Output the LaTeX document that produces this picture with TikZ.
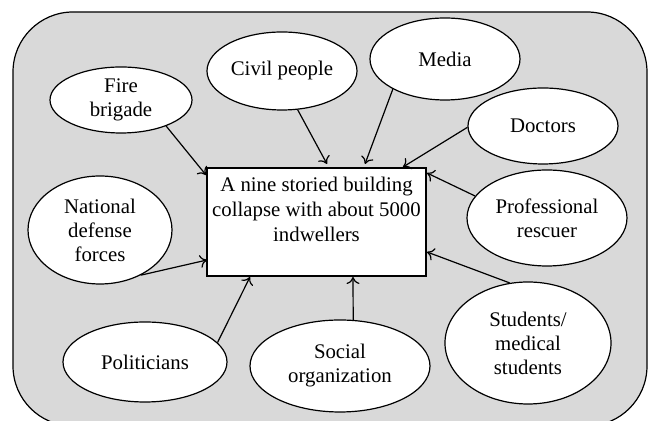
\documentclass[tikz,border=0pt]{standalone}
\usepackage{fontspec}
\setmainfont{Liberation Serif}
\usetikzlibrary{shapes.geometric,arrows.meta}
\definecolor{fond}{gray}{0.85}
\begin{document}
\begin{tikzpicture}[x=0.5pt,y=-0.5pt]
            \tikzstyle{acteur}=[ellipse,draw,fill=white,line width=0.6pt,inner sep=0pt,align=center,font=\fontsize{10.4}{12}\selectfont]
            \tikzstyle{fleche}=[-{To[length=3.5pt,width=6.5pt]},line width=0.6pt]
            \clip (0,0) rectangle (650,421);
            \draw[fill=fond,line width=0.6pt,rounded corners=30pt] (13,12) rectangle (647,426);
            \node[draw,fill=white,line width=0.6pt,minimum width=109.5pt,minimum height=54pt,inner sep=0pt,align=center,font=\fontsize{10.4}{12.5}\selectfont] (event) at (316.5,222) {A nine storied building\\collapse with about 5000\\indwellers\\ \mbox{}};
            \node[acteur,minimum width=71pt,minimum height=33pt] (fire) at (121,100) {Fire\\brigade};
            \node[acteur,minimum width=75pt,minimum height=39pt] (civil) at (282,71) {Civil people};
            \node[acteur,minimum width=75pt,minimum height=41pt] (media) at (445,59) {Media};
            \node[acteur,minimum width=75pt,minimum height=38pt] (doctors) at (543,126) {Doctors};
            \node[acteur,minimum width=80pt,minimum height=48pt] (rescuer) at (547,218) {Professional\\rescuer};
            \node[acteur,minimum width=83pt,minimum height=61pt] (students) at (528,343) {Students/\\medical\\students};
            \node[acteur,minimum width=90pt,minimum height=46pt] (social) at (340,366) {Social\\organization};
            \node[acteur,minimum width=82pt,minimum height=40pt] (politicians) at (145,362) {Politicians};
            \node[acteur,minimum width=72pt,minimum height=54pt] (national) at (100,230) {National\\defense\\forces};
            \coordinate (t1) at (206,175);
            \coordinate (t2) at (327,164);
            \coordinate (t3) at (365,164);
            \coordinate (t4) at (403,167);
            \coordinate (t5) at (427,173);
            \coordinate (t6) at (427,252);
            \coordinate (t7) at (353,277);
            \coordinate (t8) at (250,277);
            \coordinate (t9) at (207,260);
            \draw[fleche] (fire.-30) -- (t1);
            \draw[fleche] (civil.-68) -- (t2);
            \draw[fleche] (media.-150) -- (t3);
            \draw[fleche] (doctors.181) -- (t4);
            \draw[fleche] (rescuer.163) -- (t5);
            \draw[fleche] (students.107) -- (t6);
            \draw[fleche] (social.74) -- (t7);
            \draw[fleche] (politicians.15) -- (t8);
            \draw[fleche] (national.-48) -- (t9);
        \end{tikzpicture}
\end{document}
